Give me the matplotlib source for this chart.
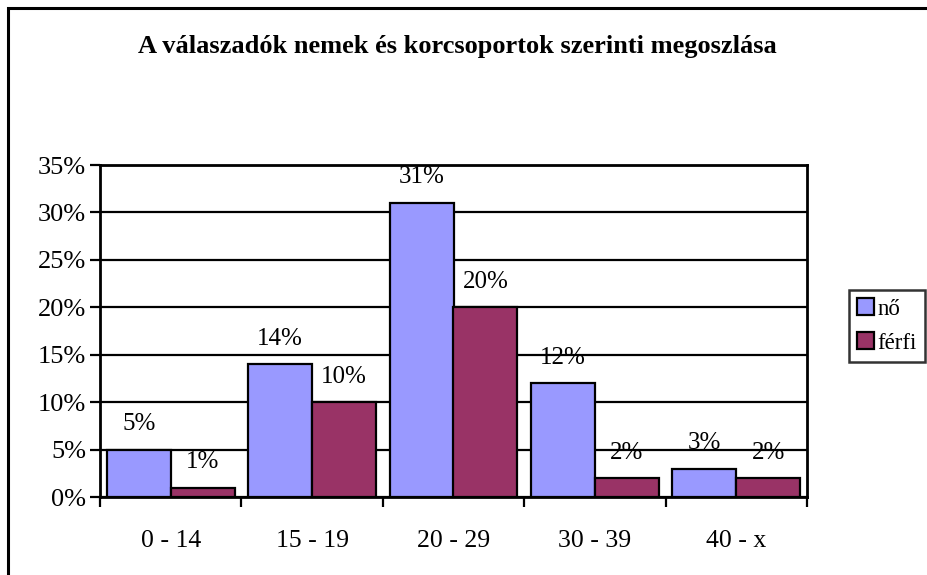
import numpy as np
import matplotlib.pyplot as plt
from matplotlib.patches import Rectangle

plt.rcParams['font.family'] = ['Liberation Serif', 'DejaVu Serif']

categories = ['0 - 14', '15 - 19', '20 - 29', '30 - 39', '40 - x']
no = [5, 14, 31, 12, 3]
ferfi = [1, 10, 20, 2, 2]
series_names = ['nő', 'férfi']
yticks = [0, 5, 10, 15, 20, 25, 30, 35]

W, H = 927, 575
fig = plt.figure(figsize=(W / 100, H / 100), dpi=100)

# keret a diagram körül (jobb és alsó éle kilóg a képből)
fig.patches.append(Rectangle((8 / W, -0.1), 1.2, 1 - 8 / H + 0.1,
                             transform=fig.transFigure, fill=False,
                             edgecolor='black', linewidth=2.2))

ax = fig.add_axes([100 / W, 1 - 497 / H, 707 / W, 332 / H])

x = np.arange(len(categories))
bw = 0.4525
b1 = ax.bar(x - bw / 2, no, bw, color='#9999FF', edgecolor='black', linewidth=1.6,
            label=series_names[0], zorder=3)
b2 = ax.bar(x + bw / 2, ferfi, bw, color='#993366', edgecolor='black', linewidth=1.6,
            label=series_names[1], zorder=3)

for bars, vals in ((b1, no), (b2, ferfi)):
    for r, v in zip(bars, vals):
        ax.annotate(f'{v}%', (r.get_x() + r.get_width() / 2, v),
                    xytext=(0, 14), textcoords='offset points',
                    ha='center', va='baseline', fontsize=18)

ax.set_xlim(-0.5, len(categories) - 0.5)
ax.set_ylim(0, 35)
ax.set_yticks(yticks)
ax.set_yticklabels([f'{t}%' for t in yticks], fontsize=19)
ax.yaxis.grid(True, color='black', linewidth=1.6, zorder=0)
ax.set_axisbelow(True)

ax.set_xticks(x)
ax.set_xticklabels(categories, fontsize=18.5)
ax.set_xticks(np.arange(len(categories) + 1) - 0.5, minor=True)
ax.tick_params(axis='x', which='major', length=0, pad=24)
ax.tick_params(axis='x', which='minor', length=7, width=1.6, direction='out')
ax.tick_params(axis='y', length=7, width=1.6, direction='out', pad=3)

for s in ax.spines.values():
    s.set_linewidth(2)
    s.set_color('black')

fig.text(457 / W, 1 - 46 / H, 'A válaszadók nemek és korcsoportok szerinti megoszlása',
         ha='center', va='center', fontsize=19, fontweight='bold')

leg = fig.legend(loc='center right', bbox_to_anchor=(925 / W, 1 - 326 / H),
                 fontsize=16.5, frameon=True, fancybox=False, edgecolor='black',
                 handlelength=0.75, handleheight=0.75, handletextpad=0.15,
                 borderpad=0.35, labelspacing=0.55, borderaxespad=0)
leg.get_frame().set_linewidth(1.8)

fig.savefig('out.png', dpi=100)
